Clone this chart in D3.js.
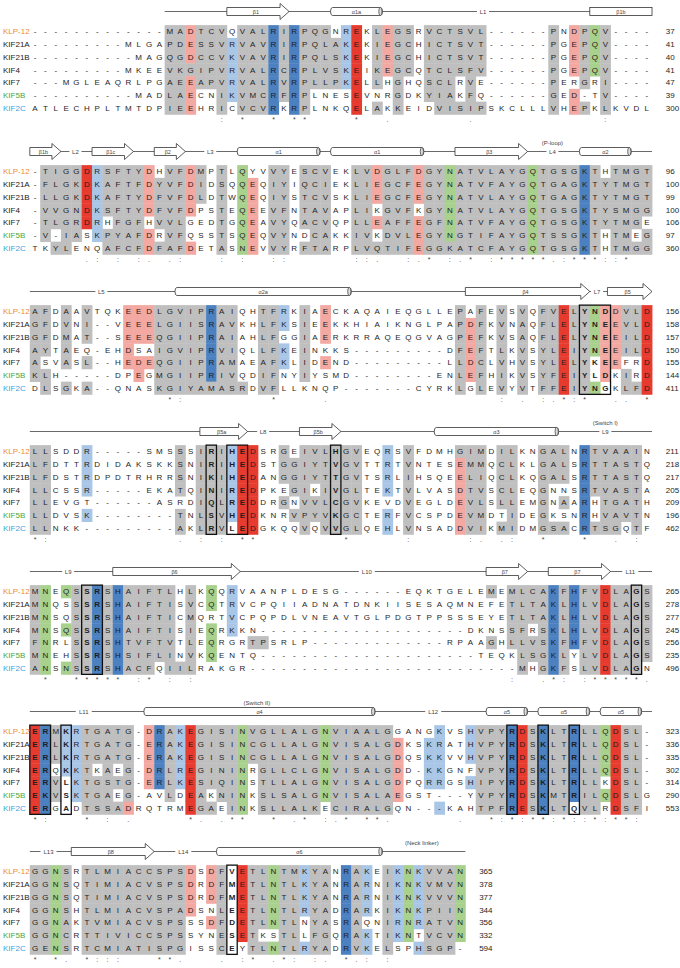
<!DOCTYPE html>
<html><head><meta charset="utf-8">
<script src="https://cdn.jsdelivr.net/npm/d3@7"></script>
<style>body{margin:0;background:#fff}svg{display:block}</style>
</head><body>
<svg id="c" width="680" height="968"></svg>
<script>
const names = ["KLP-12","KIF21A","KIF21B","KIF4","KIF7","KIF5B","KIF2C"];
const nameColors = ["#f08a32","#1a1a1a","#1a1a1a","#1a1a1a","#1a1a1a","#45a845","#37a6de"];

const seqB1 = [
"-------------MADTCVQVALRIRPQGNREKLEGSRVCTSVL------PNDPQV----",
"---------MLGAPDESSVRVAVRIRPQLAKEKIEGCHICTSVT------PGEPQV----",
"----------MAGQGDCCVKVAVRIRPQLSKEKIEGCHICTSVT------PGEPQV----",
"---------MKEEVKGIPVRVALRCRPLVSKEIKEGCQTCLSFV------PGEPQV----",
"---MGLEAQRLPGAEEAPVRVALRVRPLLPKELLHGHQSCLRVE------PERGRI----",
"----------MADLAECNIKVMCRFRPLNESEVNRGDKYIAKFQ------GED-TV----",
"ATLECHPLTMTDPIEEHRICVCVRKRPLNKQELAKKEIDVISIPSKCLLLVHEPKLKVDL"];
const seqB2 = [
"-TIGGDRSFTYDHVFDMPTLQYVVYESCVEKLVDGLFDGYNATVLAYGQTGSGKTHTMGT",
"-FLGKDKAFTFDYVFDIDSQQEQIYIQCIEKLIEGCFEGYNATVFAYGQTGAGKTYTMGT",
"-LLGKDKAFTYDFVFDLDTWQEQIYSTCVSKLIEGCFEGYNATVLAYGQTGAGKTYTMGT",
"-VVGNDKSFTYDFVFDPSTEQEEVFNTAVAPLIKGVFKGYNATVLAYGQTGSGKTYSMGG",
"-TLGRDRHFGFHVVLGEDTGQEAVYQACVQPLLEAFFEGFNATVFAYGQTGSGKTYTMGE",
"-V-IASKPYAFDRVFQSSTSQEQVYNDCAKKIVKDVLEGYNGTIFAYGQTSSGKTHTMEG",
"TKYLENQAFCFDFAFDETASNEVVYRFTARPLVQTIFEGGKATCFAYGQTGSGKTHTMGG"];
const seqB3 = [
"AFDAAVTQKEEDLGVIPRAIQHTFRKIAECKAQAIEQGLLEPAFEVSVQFVELYNDDVLD",
"GFDVNI--VEEELGIISRAVKHLFKSIEEKKHIAIKNGLPAPDFKVNAQFLELYNEEVLD",
"GFDMAT--SEEEQGIIPRAIAHLFGGIAERKRRAQEQGVAGPEFKVSAQFLELYNEEILD",
"AYTAEQ-EHDSAIGVIPRVIQLLFKEINKKS---------DFEFTLKVSYLEIYNEEILD",
"ASVASL--HEDEQGIIPRAMAEAFKLIDEND---------LLDCLVHVSYLELYKEEFRD",
"KLH-----DPEGMGIIPRIVQDIFNYIYSMD--------ENLEFHIKVSYFEIYLDKIRD",
"DLSGKA--QNASKGIYAMASRDVFLLKNQP-------CYRKLGLEVYVTFFEIYNGKLFD"];
const seqB4 = [
"LLSDDR-----SMSSSIRIHEDSRGEIVLHGVEQRSVFDMHGIMDILKNGALNRTVAAIN",
"LFDTTRDIDAKSKKSNIRIHEDSTGGIYTVGVTTRTVNTESEMMQCLKLGALSRTTASTQ",
"LFDSTRDPDTRHRRSNIKIHEDANGGIYTTGVTSRLIHSQEELIQCLKQGALSRTTASTQ",
"LLCSSR-----EKATQINIREDPKEGIKIVGLTEKTVLVASDTVSCLEQGNNSRTVASTA",
"LLEVGT------ASRDIQLREDDRGNVVLCGVKEVDVEGLDEVLSLLEMGNAARHTGATH",
"LLDVSK--------TNLSVHEDKNRVPYVKGCTERFVCSPDEVMDTIDEGKSNRHVAVTN",
"LLNKK---------AKLRVLEDGKQQVQVVGLQEHLVNSADDVIKMIDMGSACRTSGQTF"];
const seqB5 = [
"MNEQSSRSHAIFTLHLKQQRVAANPLDESG------EQKTGELEMEMLCAKFHFVDLAGS",
"MNQSSSRSHAIFTISVCQTRVCPQIIADNATDNKIISESAQMNEFETLTAKLHLVDLAGS",
"MNSQSSRSHAIFTICMQRTVCPQPDLVNEAVTGLPDGTPPSSSEYETLTAKLHLVDLAGS",
"MNSQSSRSHAIFTISIEQRKKN--------------------DKNSSFRSKLHLVDLAGS",
"FNRLSSRSHTVFTVTLEQRGRTPSRLP-------------RPAAGHLLVSKFHFVDLAGS",
"MNEHSSRSHSIFLINVKQENTQ---------------------TEQKLSGKLYLVDLAGS",
"ANSNSSRSHACFQIILRAKGR--------------------------MHGKFSLVDLAGN"];
const seqB6 = [
"ERMKRTGATG-DRAKEGISINVGLLALGNVIAALGGANGKVSHVPYRDSKLTRLLQDSL-",
"ERLKRTGATG-ERAKEGISINCGLLALGNVISALGDKSKRATHVPYRDSKLTRLLQDSL-",
"ERLKRTGATG-ERAKEGISINCGLLALGNVISALGDQSKKVVHVPYRDSKLTRLLQDSL-",
"ERQKKTKAEG-DRLREGININRGLLCLGNVISALGDD-KKGNFVPYRDSKLTRLLQDSL-",
"ERVLKTGSTG-ERLKESIQINSTLLALGNVISALGDPQRRGSHIPYRDSKLTRLLKDSL-",
"EKVSKTGAEG-AVLDEAKNINKSLSALGNVISALAEGST---YVPYRDSKMTRILQDSLG",
"ERGADTSSADRQTRMEGAEINKSLLALKECIRALGQN---KAHTPFRESKLTQVLRDSFI"];
const seqB7 = [
"GGNSRTLMIACCSPSDSDFVETLNTMKYANRAKEIKNKVVAN",
"GGNSQTIMIACVSPSDRDFMETLNTLKYANRARNIKNKVMVN",
"GGNSQTIMIACVSPSDRDFMETLNTLKYANRARNIKNKVVVN",
"GGNSHTLMIACVSPADSNLEETLNTLRYADRARKIKNKPIIN",
"GGNAKTVMIACVSPSSSDFDETLNTLNYASRAQNIRNRATVN",
"GGNCRTTIVICCSPSSYNESETKSTLLFGQRAKTIKNTVCVN",
"GENSRTCMIATISPGISSCEYTLNTLRYADRVKELSPHSGP-"];

// residue shading per alignment column, 7 codes (top row first); "code*n" repeats a column n times
// g grey, p light red, r red, b light blue, B blue, n green, . none
const colB1 = ".......*13 ggggggg*2 pppgppp ggggg..*2 ggggggg .bbbbb. ggggggg*3 BBBBBBB gggggg. BBBBBBB ggggggg ggggg..*2 .gggg.. bbbbb.. rrrrrrr ....... ggggg.g pppp... ggggggg gggg... ....... gggggg. ggggggg*2 gggg..g ggggggg gggg..g .......*6 ggggggg ....... pppp.pp ggggg.g nnnn... ggggggg .......*4";
const colB2 = "....... gggggg. ggggg.g ggggggg gggggg. rrrrr.. bbbbbb. gggg.gg ggggggg*3 pppp.pp .gggg.g ggggggg*2 pppp..p ggg.... ....... ggggggg ....... nnnnnnn .pppppp ....... ggggggg*2 ....... ggggg.g ggggggg*2 .......*2 ggggggg*2 ppp.p.g ggggggg*3 ppp.ppp ggggggg*2 nnnnnng ggggggg*7 nnnnnnn ggggggg*4 BBBBBBB ggggggg .gggg.. ggggggg*2 ggggg.g gggg.gg";
const colB3 = "gggggg. gggg.gg ....... ggggg.g ....... ggg.g.g .......*3 ppppp.. ppp.pp. ppp.p.. ggggggg*5 BBBBBBg ggggggg*2 ......g ....... ggggggg*2 bb.bb.. ....... gggggg. ....... ppp.p.. ....... .......*11 ggggggg .ppppp. ggggggg ....... ggggggg ....... ggggggg ....... ggggggg*2 rrrrrrr ggggggg*2 nnnn..n pppppp. ppppp.. gggg.gg gggg..g rrrrrrr";
const colB4 = "ggggggg*2 .......*3 bbbb.b. .......*8 gggg.gg ....... ggggggg*3 bbbbbb. rrrrrrr*2 .......*2 ggg.g.. .ggg.g. ggggggg ggg.gg. ggggggg*4 .......*2 bbbb.bb ....... ggggggg .......*4 gpppppp ggggggg*2 ....... ggggg.g ggggggg .......*2 ggggggg ggg...g ggg.g.g ....... BBBBBBB gggg..g ggggggg*2 gggggg. ggggggg .......";
const colB5 = "ggggggg nnnnnnn ....... n..n..n ggggggg ggggggg BBBBBBB ggggggg BBBBBBB ggggggg*3 gggggg. ggggggg ......g ggggggg ....... nn.nnn. ....... bbbb... ....... ....g..*2 .......*21 g...g.. ....... ggggg.. ggggggg ggg.gg. ggggggg BBBBBBB ggggggg BBBBB.. ggggggg ggggggg rrrrrrr ggggggg*3 gggggg.";
const colB6 = "rrrrrrr BBBBBBB ggg.gg. bbbb... bbbbbb. ggggggg ggg.ggg ggggggg ggg.g.g ggggggp ....... ppppp.. BBBBB.. gggggg. bbbbb.. rrrrrrr ggggggg ggggg.g gggggg. ggggggg nnnnnnn ggg.... ggggggg*6 nnnnnn. ggggggg*6 .ppppp. .......*2 .bbbb.. bbbbb.b .......*2 bbb.b.. ggggggg*3 BBBBBBB rrrrrrr ggggggg BBBBBBB ggggggg*2 BBBBBB. ggggggg*2 nnnn.n. rrrrrrr ggggggg*2 .......";
const colB7 = "ggggggg*2 nnnnnnn ggggggg ....... ggggggg*10 pppp... ....... ppp.p.. ggggggg ....... rrrrrr. ggggggg ggggg.g nnnnn.n ggggggg*2 bbbb..b ggggggg*2 ....... BBBBBBB ggggggg bbbb.bb ....... ggggggg bbbbbb. nnnnnn. bbbbb.b ggggggg*3 nnnnnn.";

const endB1 = [37,41,40,41,47,39,300];
const endB2 = [96,100,99,100,106,97,360];
const endB3 = [156,158,157,150,155,144,411];
const endB4 = [211,218,217,205,209,196,462];
const endB5 = [265,278,277,245,256,235,496];
const endB6 = [323,336,335,302,314,290,553];
const endB7 = [365,378,377,344,356,332,594];

// conservation symbols [column, symbol]
const consB1 = [[19,":"],[21,"*"],[24,"*"],[26,"*"],[27,"*"],[32,"*"],[35,"."],[43,"."],[56,":"]];
const consB2 = [[6,"."],[7,":"],[9,":"],[11,":"],[12,"."],[14,"."],[15,":"],[19,":"],[21,":"],[24,":"],[25,":"],[32,":"],[33,":"],[34,"."],[37,":"],[38,"."],[39,"*"],[41,":"],[42,"."],[43,"*"],[45,":"],[46,"*"],[47,"*"],[48,"*"],[49,"*"],[50,"*"],[51,"."],[52,":"],[53,"*"],[54,"*"],[55,"*"],[56,":"],[57,":"],[58,"*"]];
const consB3 = [[14,"*"],[15,":"],[24,"*"],[29,"."],[46,":"],[48,"."],[50,":"],[51,"."],[52,"*"],[53,":"],[54,"*"],[57,"."],[58,"."],[60,"*"]];
const consB4 = [[1,"*"],[2,":"],[15,"."],[17,":"],[19,":"],[21,"*"],[22,"*"],[31,"*"],[37,":"],[43,":"],[44,"."],[46,"."],[47,":"],[50,"*"],[54,"*"],[57,"."],[59,":"]];
const consB5 = [[2,"*"],[5,"*"],[6,"*"],[7,"*"],[8,"*"],[9,"*"],[11,":"],[12,"*"],[14,":"],[16,":"],[47,":"],[50,"."],[51,"*"],[52,":"],[54,":"],[55,"*"],[56,"*"],[57,"*"],[58,"*"],[59,"*"],[60,"."]];
const consB6 = [[1,"*"],[2,":"],[6,"*"],[8,":"],[10,"."],[16,"*"],[17,"."],[19,"."],[20,"*"],[21,"*"],[24,"*"],[26,"."],[27,"*"],[29,":"],[30,"."],[31,"*"],[33,"*"],[34,"*"],[35,"."],[42,"."],[45,"*"],[46,":"],[47,"*"],[48,":"],[49,"*"],[50,"*"],[51,":"],[52,"*"],[53,":"],[54,":"],[55,"*"],[56,":"],[57,"*"],[58,"*"],[59,":"]];
const consB7 = [[1,"*"],[3,"*"],[4,"."],[6,"*"],[7,":"],[8,":"],[9,":"],[13,"*"],[14,"*"],[15,"."],[19,"."],[21,":"],[22,"*"],[24,"."],[25,"*"],[26,":"],[28,":"],[29,"."],[31,"*"],[32,"."],[33,":"],[35,":"]];

// boxed columns [from, to]
const boxB1 = [], boxB2 = [];
const boxB3 = [[54,56]];
const boxB4 = [[18,18],[20,21],[30,30]];
const boxB5 = [[6,7],[59,59]];
const boxB6 = [[1,2],[4,4],[47,47],[50,50],[53,53]];
const boxB7 = [[20,20]];

// secondary structure (column units)
const ssB1 = {line:[14,60], items:[
  {t:"arrow",s:20,e:25,lab:"β1"},{t:"cyl",s:30,e:34,lab:"α1a"},
  {t:"loop",at:44.2,lab:"L1"},{t:"box",s:55,e:60,lab:"β1b"}]};
const ssB2 = {line:[1,60], items:[
  {t:"arrow",s:1,e:3,lab:"β1b"},{t:"loop",at:4.9,lab:"L2"},{t:"arrow",s:7,e:10,lab:"β1c"},
  {t:"arrow",s:13,e:15,lab:"β2"},{t:"loop",at:17.9,lab:"L3"},{t:"cyl",s:21,e:28,lab:"α1"},
  {t:"cyl",s:30,e:38,lab:"α1"},{t:"arrow",s:42,e:48,lab:"β3"},{t:"loop",at:50.9,lab:"L4"},
  {t:"note",at:50.9,lab:"(P-loop)"},{t:"cyl",s:54,e:58,lab:"α2"}]};
const ssB3 = {line:[1,60], items:[
  {t:"loop",at:7.4,lab:"L5"},{t:"cyl",s:15,e:31,lab:"α2a"},{t:"arrow",s:43,e:54,lab:"β4"},
  {t:"loop",at:55.2,lab:"L7"},{t:"arrow",s:56.7,e:60,lab:"β5"}]};
const ssB4 = {line:[1,60], items:[
  {t:"arrow",s:17.4,e:21,lab:"β5a"},{t:"loop",at:23,lab:"L8"},{t:"arrow",s:27,e:30,lab:"β5b"},
  {t:"cyl",s:40,e:51,lab:"α3"},{t:"loop",at:56,lab:"L9"},{t:"note",at:56,lab:"(Switch I)"}]};
const ssB5 = {line:[1,60], items:[
  {t:"loop",at:4.2,lab:"L9"},{t:"arrow",s:9,e:20.3,lab:"β6"},{t:"loop",at:33,lab:"L10"},
  {t:"arrow",s:45,e:48,lab:"β7"},{t:"arrow",s:51,e:56,lab:"β7"},{t:"loop",at:58.4,lab:"L11"}]};
const ssB6 = {line:[1,60], items:[
  {t:"loop",at:5.7,lab:"L11"},{t:"cyl",s:12,e:33.3,lab:"α4"},{t:"note",at:22.4,lab:"(Switch II)"},
  {t:"loop",at:39.4,lab:"L12"},{t:"cyl",s:45,e:48,lab:"α5"},{t:"cyl",s:50,e:54,lab:"α5"},
  {t:"cyl",s:56,e:59,lab:"α5"}]};
const ssB7 = {line:[1,42], items:[
  {t:"loop",at:2.3,lab:"L13"},{t:"arrow",s:5,e:12,lab:"β8"},{t:"loop",at:15.3,lab:"L14"},
  {t:"cyl",s:19,e:34,lab:"α6"},{t:"note",at:38.3,lab:"(Neck linker)"}]};

const blocks = [
  {seq:seqB1,col:colB1,end:endB1,cons:consB1,box:boxB1,ss:ssB1},
  {seq:seqB2,col:colB2,end:endB2,cons:consB2,box:boxB2,ss:ssB2},
  {seq:seqB3,col:colB3,end:endB3,cons:consB3,box:boxB3,ss:ssB3},
  {seq:seqB4,col:colB4,end:endB4,cons:consB4,box:boxB4,ss:ssB4},
  {seq:seqB5,col:colB5,end:endB5,cons:consB5,box:boxB5,ss:ssB5},
  {seq:seqB6,col:colB6,end:endB6,cons:consB6,box:boxB6,ss:ssB6},
  {seq:seqB7,col:colB7,end:endB7,cons:consB7,box:boxB7,ss:ssB7}];

const fill = {g:"#bfbfbf",p:"#f3a8a2",r:"#e63b2e",b:"#a9c6e7",B:"#4b80c1",n:"#a8d18d"};
const CW = 10.37, RH = 12.75, FONT = "'Liberation Sans', Arial, Helvetica, sans-serif";
const x = d3.scaleLinear().domain([1, 60]).range([35, 35 + 59 * CW]);
const L = c => x(c) - CW / 2, R = c => x(c) + CW / 2;
const svg = d3.select("#c").attr("font-family", FONT);

function expandCols(str) {
  const out = [];
  str.trim().split(/\s+/).forEach(tok => {
    const [code, n] = tok.split("*");
    for (let i = 0; i < (n ? +n : 1); i++) out.push(code);
  });
  return out;
}

blocks.forEach((b, bi) => {
  const g = svg.append("g");
  const y0 = 31.5 + bi * 140;
  const y = d3.scaleLinear().domain([0, 1]).range([y0, y0 + RH]);
  const ncol = b.seq[0].length;
  const cols = expandCols(b.col);
  const boxed = c => b.box.some(([s, e]) => c >= s && c <= e);
  const cells = [];
  b.seq.forEach((s, r) => {
    for (let c = 1; c <= ncol; c++) {
      const code = (cols[c-1] || ".......")[r] || ".";
      cells.push({r, c, ch: s[c-1] || "", code});
    }
  });

  g.selectAll("rect.cell").data(cells.filter(d => d.code !== ".")).join("rect")
    .attr("x", d => L(d.c)).attr("y", d => y(d.r) - RH/2)
    .attr("width", CW + 0.4).attr("height", RH + 0.4)
    .attr("fill", d => fill[d.code]);

  g.selectAll("text.res").data(cells).join("text")
    .attr("x", d => x(d.c)).attr("y", d => y(d.r) + 2.9)
    .attr("text-anchor", "middle").attr("font-size", 8)
    .attr("font-weight", d => boxed(d.c) ? "bold" : "normal")
    .attr("fill", "#1e1e1e").text(d => d.ch);

  g.selectAll("rect.box").data(b.box).join("rect")
    .attr("x", d => L(d[0])).attr("y", y(0) - RH/2)
    .attr("width", d => R(d[1]) - L(d[0])).attr("height", 7 * RH)
    .attr("fill", "none").attr("stroke", "#111").attr("stroke-width", 1.3);

  g.selectAll("text.name").data(names).join("text")
    .attr("x", 3).attr("y", (d, i) => y(i) + 2.9).attr("font-size", 8)
    .attr("fill", (d, i) => nameColors[i]).text(d => d);

  g.selectAll("text.num").data(b.end).join("text")
    .attr("x", x(ncol) + 19).attr("y", (d, i) => y(i) + 2.9).attr("font-size", 8)
    .attr("fill", "#1e1e1e").text(d => d);

  g.selectAll("text.cons").data(b.cons).join("text")
    .attr("x", d => x(d[0])).attr("y", y(6) + 13.5).attr("text-anchor", "middle")
    .attr("font-size", 7).attr("fill", "#444").text(d => d[1]);

  // secondary structure
  const ys = y0 - 20;
  const ss = b.ss;
  g.append("line").attr("x1", L(ss.line[0])).attr("x2", R(ss.line[1]))
    .attr("y1", ys).attr("y2", ys).attr("stroke", "#444").attr("stroke-width", 0.8);
  ss.items.forEach(it => {
    if (it.t === "loop") {
      const w = it.lab.length * 4 + 4;
      g.append("rect").attr("x", x(it.at) - w/2).attr("y", ys - 3).attr("width", w).attr("height", 6).attr("fill", "#fff");
      g.append("text").attr("x", x(it.at)).attr("y", ys + 2.2).attr("text-anchor", "middle")
        .attr("font-size", 6).attr("fill", "#444").text(it.lab);
    } else if (it.t === "note") {
      g.append("text").attr("x", x(it.at)).attr("y", ys - 7).attr("text-anchor", "middle")
        .attr("font-size", 6).attr("fill", "#444").text(it.lab);
    } else {
      const x0 = L(it.s), x1 = R(it.e);
      if (it.t === "arrow") {
        const hl = Math.min(9, (x1 - x0) * 0.45);
        g.append("path").attr("d", `M${x0},${ys-4}L${x1-hl},${ys-4}L${x1-hl},${ys-8}L${x1},${ys}L${x1-hl},${ys+8}L${x1-hl},${ys+4}L${x0},${ys+4}Z`)
          .attr("fill", "#fff").attr("stroke", "#333").attr("stroke-width", 0.8);
      } else if (it.t === "box") {
        g.append("rect").attr("x", x0).attr("y", ys - 4).attr("width", x1 - x0).attr("height", 8)
          .attr("fill", "#fff").attr("stroke", "#333").attr("stroke-width", 0.8);
      } else if (it.t === "cyl") {
        g.append("path").attr("d", `M${x0+2},${ys-4}L${x1-2},${ys-4}A2,4 0 0 1 ${x1-2},${ys+4}L${x0+2},${ys+4}A2,4 0 0 1 ${x0+2},${ys-4}Z`)
          .attr("fill", "#fff").attr("stroke", "#333").attr("stroke-width", 0.8);
        g.append("ellipse").attr("cx", x1 - 2).attr("cy", ys).attr("rx", 1.6).attr("ry", 4)
          .attr("fill", "#ddd").attr("stroke", "#333").attr("stroke-width", 0.7);
      }
      g.append("text").attr("x", (x0 + x1) / 2 - (it.t === "arrow" ? 2 : 0)).attr("y", ys + 2)
        .attr("text-anchor", "middle").attr("font-size", 5.5).attr("fill", "#444").text(it.lab);
    }
  });
});
</script>
</body></html>
